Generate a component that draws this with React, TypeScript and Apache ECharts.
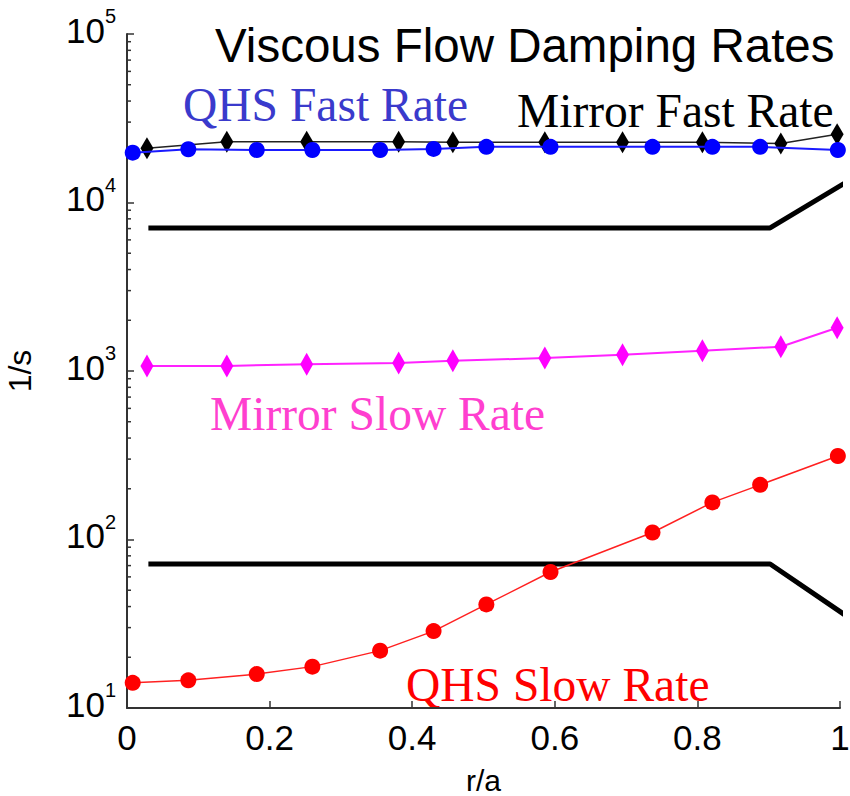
import { useEffect, useRef } from "react";
import * as echarts from "echarts";

// Radial grids (r/a) of the two configurations
const qhsRadius = [0.008, 0.086, 0.182, 0.26, 0.355, 0.43, 0.504, 0.594, 0.737, 0.821, 0.888, 0.997];
const mirrorRadius = [0.028, 0.14, 0.252, 0.381, 0.457, 0.586, 0.695, 0.807, 0.917, 0.996];

// Damping rates (1/s)
const qhsFast = [19750, 20700, 20500, 20500, 20500, 20800, 21400, 21400, 21400, 21400, 21400, 20500];
const mirrorFast = [21000, 22900, 22900, 22900, 22750, 22750, 22750, 22750, 22400, 25400];
const mirrorSlow = [1072, 1072, 1096, 1115, 1150, 1193, 1249, 1320, 1393, 1807];
const qhsSlow = [14.1, 14.6, 15.9, 17.6, 21.9, 28.6, 41.2, 64.1, 110, 166, 211, 313];

// Reference levels (thick black lines)
const limitRadius = [0.03, 0.902, 1.02];
const fastLimit = [7060, 7060, 14100];
const slowLimit = [71.5, 71.5, 32.7];

// Log-axis minor ticks: 2..9 within each decade
const minorMultipliers = [2, 3, 4, 5, 6, 7, 8, 9];
const decades = [10, 100, 1000, 10000];
const minorTicks = decades.flatMap((d) => minorMultipliers.map((m) => m * d));

const SANS = "Liberation Sans";
const SERIF = "Liberation Serif";

const zip = (xs: number[], ys: number[]) => xs.map((x, i) => [x, ys[i]]);

export default function App() {
  const ref = useRef<HTMLDivElement>(null);

  useEffect(() => {
    if (!ref.current) return;
    const chart = echarts.init(ref.current, null, { renderer: "svg" });

    const axisColor = "#333";

    chart.setOption({
      animation: false,
      backgroundColor: "#fff",
      title: {
        text: "Viscous Flow Damping Rates",
        left: 215,
        top: 21,
        padding: 0,
        textStyle: { fontSize: 47.5, fontFamily: SANS, fontWeight: "normal", color: "#000" },
      },
      grid: { left: 127, top: 34, right: 10, bottom: 88, containLabel: false, outerBoundsMode: "none" },
      xAxis: {
        type: "value",
        min: 0,
        max: 1,
        interval: 0.2,
        name: "r/a",
        nameLocation: "middle",
        nameGap: 57,
        nameMoveOverlap: false,
        nameTextStyle: { fontSize: 30, fontFamily: SANS, color: "#000" },
        axisLine: { show: true, onZero: false, lineStyle: { color: axisColor, width: 2 } },
        axisTick: { show: true, inside: true, length: 7, lineStyle: { color: axisColor, width: 1.5 } },
        axisLabel: { fontSize: 35, fontFamily: SANS, color: "#000", margin: 12 },
        splitLine: { show: false },
      },
      yAxis: {
        type: "log",
        logBase: 10,
        min: 10,
        max: 100000,
        name: "1/s",
        nameLocation: "middle",
        nameRotate: 90,
        nameGap: 91,
        nameMoveOverlap: false,
        nameTextStyle: { fontSize: 32, fontFamily: SANS, color: "#000" },
        axisLine: { show: true, lineStyle: { color: axisColor, width: 2 } },
        axisTick: { show: true, inside: true, length: 7, lineStyle: { color: axisColor, width: 1.5 } },
        axisLabel: {
          margin: 11,
          formatter: (v: number) => `{b|10}{e|${Math.round(Math.log10(v))}}`,
          rich: {
            b: { fontSize: 35, fontFamily: SANS, color: "#000", padding: [0, 0, 8, 0] },
            e: { fontSize: 20, fontFamily: SANS, color: "#000", padding: [0, 0, 36, 0] },
          },
        },
        splitLine: { show: false },
      },
      graphic: [
        {
          type: "text",
          x: 183,
          y: 105,
          style: { text: "QHS Fast Rate", fontSize: 47.5, fontFamily: SERIF, fill: "#3a3acc", verticalAlign: "middle", align: "left" },
        },
        {
          type: "text",
          x: 517,
          y: 111,
          style: { text: "Mirror Fast Rate", fontSize: 47.5, fontFamily: SERIF, fill: "#000", verticalAlign: "middle", align: "left" },
        },
        {
          type: "text",
          x: 210,
          y: 414,
          style: { text: "Mirror Slow Rate", fontSize: 47.5, fontFamily: SERIF, fill: "#ff3fcf", verticalAlign: "middle", align: "left" },
        },
        {
          type: "text",
          x: 406,
          y: 685,
          style: { text: "QHS Slow Rate", fontSize: 47.5, fontFamily: SERIF, fill: "#ff0000", verticalAlign: "middle", align: "left" },
        },
      ],
      series: [
        {
          name: "minor ticks",
          type: "custom",
          silent: true,
          clip: false,
          data: minorTicks.map((v) => [0, v]),
          renderItem: (_p: any, api: any) => {
            const pt = api.coord([0, api.value(1)]);
            return {
              type: "line",
              shape: { x1: pt[0], y1: pt[1], x2: pt[0] + 4, y2: pt[1] },
              style: { stroke: axisColor, lineWidth: 1.5 },
            };
          },
          z: 1,
        },
        {
          name: "fast limit",
          type: "line",
          data: zip(limitRadius, fastLimit),
          showSymbol: false,
          symbol: "none",
          clip: false,
          lineStyle: { color: "#000", width: 5 },
          z: 2,
        },
        {
          name: "slow limit",
          type: "line",
          data: zip(limitRadius, slowLimit),
          showSymbol: false,
          symbol: "none",
          clip: false,
          lineStyle: { color: "#000", width: 5 },
          z: 2,
        },
        {
          name: "Mirror Fast Rate",
          type: "line",
          data: zip(mirrorRadius, mirrorFast),
          symbol: "diamond",
          symbolSize: [13, 22],
          clip: false,
          lineStyle: { color: "#222", width: 1.5 },
          itemStyle: { color: "#000" },
          z: 3,
        },
        {
          name: "QHS Fast Rate",
          type: "line",
          data: zip(qhsRadius, qhsFast),
          symbol: "circle",
          symbolSize: 16,
          clip: false,
          lineStyle: { color: "#1a1aff", width: 2 },
          itemStyle: { color: "#0000ff" },
          z: 4,
        },
        {
          name: "Mirror Slow Rate",
          type: "line",
          data: zip(mirrorRadius, mirrorSlow),
          symbol: "diamond",
          symbolSize: [13, 23],
          clip: false,
          lineStyle: { color: "#ff22ff", width: 2 },
          itemStyle: { color: "#ff00ff" },
          z: 3,
        },
        {
          name: "QHS Slow Rate",
          type: "line",
          data: zip(qhsRadius, qhsSlow),
          symbol: "circle",
          symbolSize: 16,
          clip: false,
          lineStyle: { color: "#ff2020", width: 1.5 },
          itemStyle: { color: "#ff0000" },
          z: 3,
        },
      ],
    });

    return () => chart.dispose();
  }, []);

  return <div ref={ref} style={{ position: "absolute", left: 0, top: 0, width: 850, height: 796 }} />;
}
